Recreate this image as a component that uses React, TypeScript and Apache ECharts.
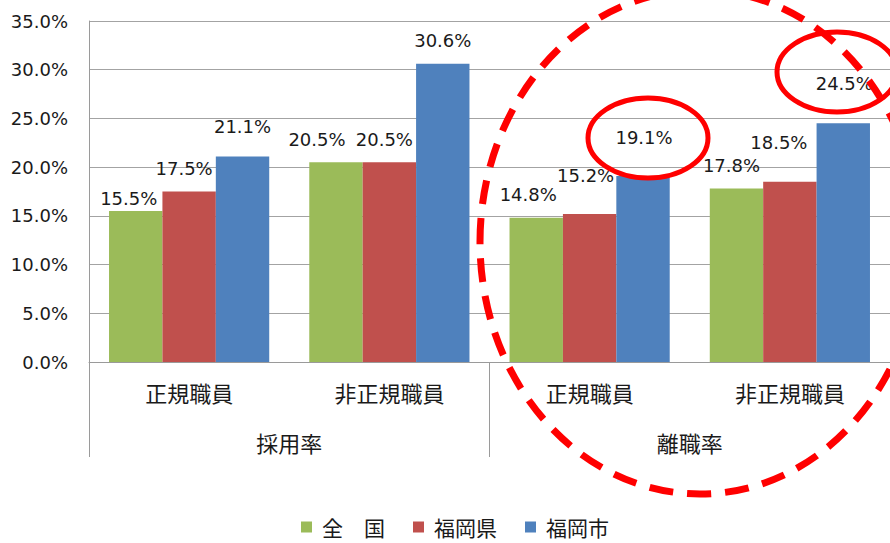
import React, { useEffect, useRef } from "react";
import * as echarts from "echarts";

const categories = ["正規職員", "非正規職員", "正規職員", "非正規職員"];
const groups = ["採用率", "離職率"];
const seriesNames = ["全　国", "福岡県", "福岡市"];
const zenkoku = [15.5, 20.5, 14.8, 17.8];
const fukuokaKen = [17.5, 20.5, 15.2, 18.5];
const fukuokaShi = [21.1, 30.6, 19.1, 24.5];
const yTicks = [0, 5, 10, 15, 20, 25, 30, 35];

// label nudges (style only): per series, per category [dx, dy]
const labelNudges = [
  [[-7, 11], [-19, 0], [-8, 0], [-5, 0]],
  [[-5, 0], [-5, 0], [-4, -15], [-11, -16]],
  [[0, -7], [0, 0], [1, -15], [1, -17]],
];

const colors = ["#9BBB59", "#C0504D", "#4F81BD"];
const textColor = "#1a1a1a";
const numFont = "DejaVu Sans";
const jpFont = "Noto Sans CJK JP";

export default function App() {
  const ref = useRef<HTMLDivElement>(null);
  useEffect(() => {
    if (!ref.current) return;
    const chart = echarts.init(ref.current, null, { renderer: "svg" });
    const seriesData = [zenkoku, fukuokaKen, fukuokaShi];
    chart.setOption({
      animation: false,
      backgroundColor: "#ffffff",
      grid: { left: 89, top: 21, width: 803, height: 341, containLabel: false },
      legend: {
        left: 296,
        top: 511,
        icon: "rect",
        itemWidth: 11,
        itemHeight: 11,
        itemGap: 28,
        data: seriesNames,
        textStyle: {
          fontFamily: jpFont,
          fontSize: 21,
          lineHeight: 22,
          color: textColor,
          padding: [0, 0, 0, 5],
        },
      },
      xAxis: [
        {
          type: "category",
          data: categories,
          position: "bottom",
          axisLine: { show: true, lineStyle: { color: "#9a9a9a", width: 1 } },
          axisTick: { show: false },
          axisLabel: {
            margin: 19,
            fontFamily: jpFont,
            fontSize: 22,
            lineHeight: 22,
            color: textColor,
            interval: 0,
          },
        },
        {
          type: "category",
          data: groups,
          position: "bottom",
          offset: 0,
          axisLine: { show: false },
          axisTick: {
            show: true,
            length: 95,
            lineStyle: { color: "#9a9a9a", width: 1 },
          },
          axisLabel: {
            margin: 69,
            fontFamily: jpFont,
            fontSize: 22,
            lineHeight: 22,
            color: textColor,
            interval: 0,
          },
        },
      ],
      yAxis: {
        type: "value",
        min: yTicks[0],
        max: yTicks[yTicks.length - 1],
        interval: 5,
        axisLine: { show: true, lineStyle: { color: "#9a9a9a", width: 1 } },
        axisTick: { show: false },
        splitLine: { show: true, lineStyle: { color: "#a3a3a3", width: 1 } },
        axisLabel: {
          margin: 21,
          fontFamily: numFont,
          fontSize: 18,
          color: textColor,
          formatter: (v: number) => v.toFixed(1) + "%",
        },
      },
      series: seriesData.map((arr, si) => ({
        name: seriesNames[si],
        type: "bar",
        xAxisIndex: 0,
        barGap: "0%",
        barCategoryGap: "20%",
        itemStyle: { color: colors[si] },
        label: {
          show: true,
          position: "top",
          distance: 13,
          fontFamily: numFont,
          fontSize: 18,
          lineHeight: 20,
          color: textColor,
          formatter: (p: any) => Number(p.value).toFixed(1) + "%",
        },
        data: arr.map((v, ci) => ({
          value: v,
          label: { offset: labelNudges[si][ci] },
        })),
      })),
      graphic: [
        {
          type: "ellipse",
          z: 100,
          silent: true,
          shape: { cx: 700, cy: 242, rx: 220, ry: 252 },
          style: { fill: "none", stroke: "#FF0000", lineWidth: 7, lineDash: [24, 14] },
        },
        {
          type: "ellipse",
          z: 100,
          silent: true,
          shape: { cx: 648, cy: 138, rx: 60, ry: 40 },
          style: { fill: "none", stroke: "#FF0000", lineWidth: 5 },
        },
        {
          type: "ellipse",
          z: 100,
          silent: true,
          shape: { cx: 837, cy: 72, rx: 60, ry: 40 },
          style: { fill: "none", stroke: "#FF0000", lineWidth: 5 },
        },
      ],
    });
    return () => chart.dispose();
  }, []);
  return (
    <div
      ref={ref}
      style={{ position: "fixed", left: 0, top: 0, width: 890, height: 543, background: "#fff" }}
    />
  );
}
